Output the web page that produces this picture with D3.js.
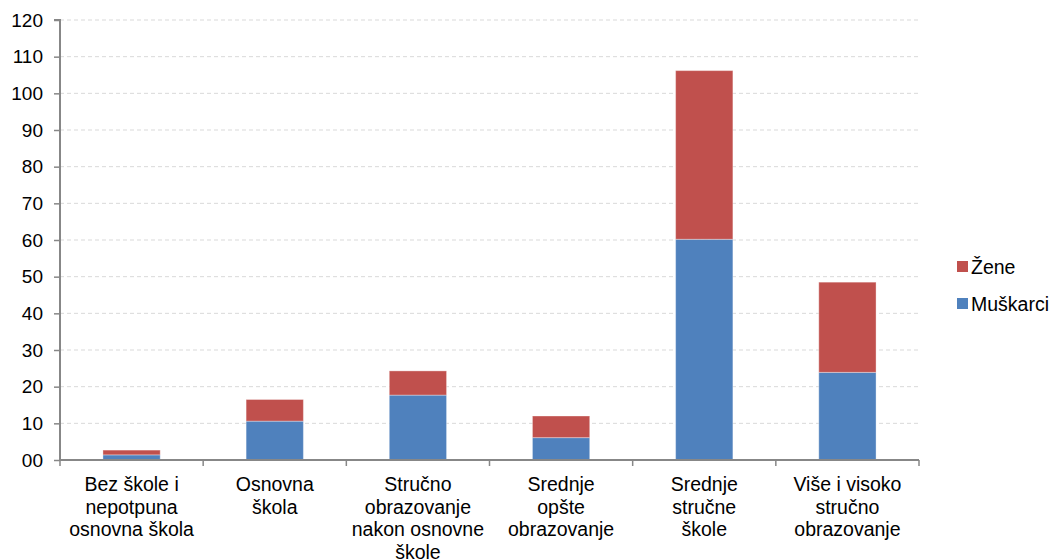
<!DOCTYPE html>
<html><head><meta charset="utf-8">
<script src="https://cdn.jsdelivr.net/npm/d3@7"></script>
<style>body{margin:0;background:#fff}svg{display:block;font-family:"Liberation Sans",Arial,sans-serif}</style>
</head><body><svg id="c" width="1053" height="560"></svg>
<script>
const categories = [
  ["Bez škole i","nepotpuna","osnovna škola"],
  ["Osnovna","škola"],
  ["Stručno","obrazovanje","nakon osnovne","škole"],
  ["Srednje","opšte","obrazovanje"],
  ["Srednje","stručne","škole"],
  ["Više i visoko","stručno","obrazovanje"]
];
const muskarci = [1.4, 10.6, 17.7, 6.1, 60.2, 23.9];
const zene = [1.3, 5.9, 6.6, 5.9, 46.0, 24.6];
const yTicks = [0,10,20,30,40,50,60,70,80,90,100,110,120];
const yTickLabels = ["00","10","20","30","40","50","60","70","80","90","100","110","120"];
const seriesNames = ["Muškarci","Žene"];
const colors = ["#4f81bd","#c0504d"];

const svg = d3.select("#c");
const x0 = 60, x1 = 919, yTop = 20, yBot = 460;
const idx = categories.map((d,i)=>i);
const x = d3.scaleBand().domain(idx).range([x0,x1]).paddingInner(0.6).paddingOuter(0.3);
const y = d3.scaleLinear().domain([0,120]).range([yBot,yTop]);

// gridlines
svg.append("g").selectAll("line").data(yTicks.filter(t=>t>0)).join("line")
  .attr("x1",x0).attr("x2",x1).attr("y1",d=>y(d)).attr("y2",d=>y(d))
  .attr("stroke","#d9d9d9").attr("stroke-width",1).attr("stroke-dasharray","4,3");

// bars
const stackData = idx.map(i=>({i, m:muskarci[i], z:zene[i]}));
const stack = d3.stack().keys(["m","z"])(stackData);
svg.append("g").selectAll("g").data(stack).join("g")
  .attr("fill",(d,k)=>colors[k])
  .selectAll("rect").data(d=>d).join("rect")
  .attr("x",d=>x(d.data.i)).attr("width",x.bandwidth())
  .attr("y",d=>y(d[1])).attr("height",d=>y(d[0])-y(d[1]))
  .attr("stroke","rgba(255,255,255,0.35)").attr("stroke-width",1);

// y axis
const yAxis = d3.axisLeft(y).tickValues(yTicks).tickSize(6).tickPadding(11)
  .tickFormat((d,i)=>yTickLabels[i]);
const gy = svg.append("g").attr("transform",`translate(${x0},0)`).call(yAxis);
gy.select(".domain").attr("stroke","#878787").attr("stroke-width",2).attr("d",`M-6,${yTop}H0V${yBot}`);
gy.selectAll(".tick line").attr("stroke","#878787").attr("stroke-width",1.5);
gy.selectAll(".tick text").attr("font-size","19px").attr("fill","#000").attr("font-family","Liberation Sans, Arial, sans-serif");

// x axis
const bounds = d3.range(categories.length+1).map(i=>x0+(x1-x0)*i/categories.length);
const gx = svg.append("g");
gx.append("line").attr("x1",x0).attr("x2",x1).attr("y1",yBot).attr("y2",yBot)
  .attr("stroke","#878787").attr("stroke-width",2);
gx.selectAll("line.t").data(bounds).join("line").attr("class","t")
  .attr("x1",d=>d).attr("x2",d=>d).attr("y1",yBot).attr("y2",yBot+6)
  .attr("stroke","#878787").attr("stroke-width",1.5);
gx.selectAll("text").data(categories).join("text")
  .attr("x",(d,i)=>x(i)+x.bandwidth()/2).attr("y",491)
  .attr("text-anchor","middle").attr("font-size","19.5px").attr("fill","#000")
  .selectAll("tspan").data(d=>d).join("tspan")
  .attr("x",function(){return this.parentNode.getAttribute("x");})
  .attr("dy",(d,j)=>j===0?0:22.6).text(d=>d);

// legend
const leg = svg.append("g");
const legItems = [{n:seriesNames[1],c:colors[1],y:267},{n:seriesNames[0],c:colors[0],y:304}];
leg.selectAll("rect").data(legItems).join("rect")
  .attr("x",957).attr("y",d=>d.y-6).attr("width",11).attr("height",11).attr("fill",d=>d.c);
leg.selectAll("text").data(legItems).join("text")
  .attr("x",971).attr("y",d=>d.y+7).attr("font-size","19.5px").attr("fill","#000").text(d=>d.n);
</script></body></html>
